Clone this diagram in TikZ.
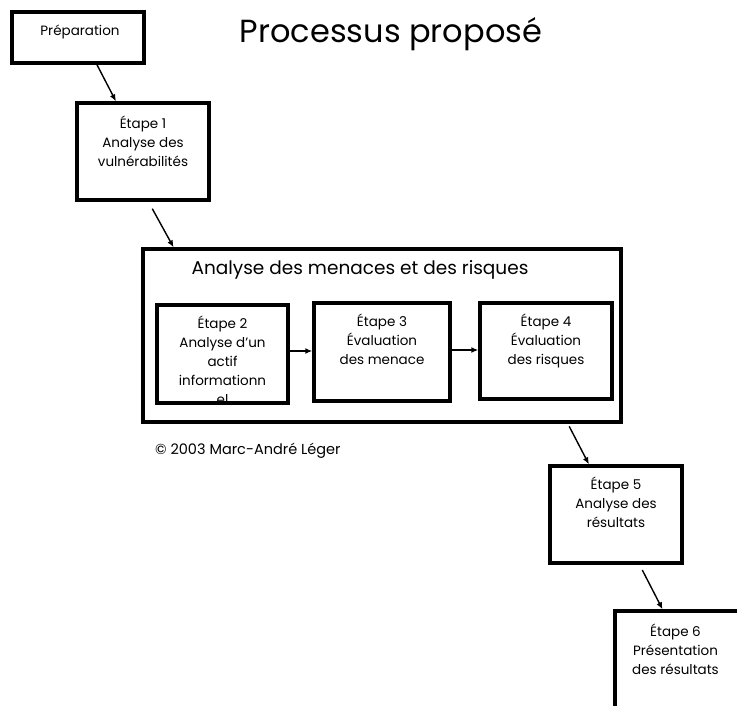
\documentclass[tikz,border=0pt]{standalone}
\usepackage{fontspec}
\setmainfont{Poppins}
\usetikzlibrary{calc,arrows.meta}
\begin{document}
\begin{tikzpicture}[x=1pt,y=-1pt,
  box/.style={draw, line width=3.4pt, inner sep=0pt, fill=none},
  lbl/.style={font=\fontsize{13.5}{19}\selectfont, align=center, inner sep=0pt, anchor=north},
  arr/.style={-{Latex[length=7pt,width=6pt]}, line width=1.4pt},
  ttl/.style={font=\fontsize{32}{34}\selectfont, inner sep=0pt, anchor=base},
  sub/.style={font=\fontsize{18.5}{20}\selectfont, inner sep=0pt}]
\useasboundingbox (0,0) rectangle (737,706);
\clip (0,0) rectangle (737,706);
\fill[white] (0,0) rectangle (737,706);

\node[ttl] (title) at (391,43) {Processus proposé};

% boxes
\node[box, minimum width=132pt, minimum height=51pt] (prep) at (78,37.5) {};
\node[box, minimum width=132pt, minimum height=97pt] (e1) at (143,151.5) {};
\node[box, minimum width=478pt, minimum height=173pt] (big) at (382,335.5) {};
\node[box, minimum width=131pt, minimum height=98pt] (e2) at (222.5,354) {};
\node[box, minimum width=136pt, minimum height=98pt] (e3) at (382,352) {};
\node[box, minimum width=132pt, minimum height=96pt] (e4) at (546,351) {};
\node[box, minimum width=132pt, minimum height=97pt] (e5) at (616,514.5) {};
\node[box, minimum width=131pt, minimum height=98pt] (e6) at (680.5,660) {};

% texts
\node[lbl, anchor=center] (tprep) at (80,32) {Préparation};
\node[lbl] (te1) at ($(e1.north)+(0,14)$) {Étape 1\\Analyse des\\vulnérabilités};
\node[sub] (tbig) at (360,270) {Analyse des menaces et des risques};
\begin{scope}
  \clip ($(e2.south west)+(1.7,-1.7)$) rectangle ($(e2.north east)+(-1.7,1.7)$);
  \node[lbl] (te2) at ($(e2.north)+(0,12)$) {Étape 2\\Analyse d'un\\actif\\informationn\\el};
\end{scope}
\node[lbl] (te3) at ($(e3.north)+(0,12)$) {Étape 3\\Évaluation\\des menace};
\node[lbl] (te4) at ($(e4.north)+(0,12)$) {Étape 4\\Évaluation\\des risques};
\node[lbl] (te5) at ($(e5.north)+(0,12)$) {Étape 5\\Analyse des\\résultats};
\node[lbl] (te6) at ($(e6.north)+(-5,14)$) {Étape 6\\Présentation\\des résultats};
\node[font=\fontsize{14.5}{16}\selectfont, anchor=west, inner sep=0pt] (copy) at (155,451) {© 2003 Marc-André Léger};

% connectors
\coordinate (a23) at ($(e2.east)+(0,-3)$);
\coordinate (a34) at ($(e3.east)+(0,-2)$);
\draw[arr] ($(prep.south west)!0.64!(prep.south east)$) -- ($(e1.north west)!0.30!(e1.north east)$);
\draw[arr, shorten <=8pt] ($(e1.south west)!0.54!(e1.south east)$) -- ($(big.north west)!0.067!(big.north east)$);
\draw[arr] (a23) -- (a23 -| e3.west);
\draw[arr] (a34) -- (a34 -| e4.west);
\draw[arr, shorten <=3pt] ($(big.south west)!0.886!(big.south east)$) -- ($(e5.north west)!0.30!(e5.north east)$);
\draw[arr, shorten <=6pt] ($(e5.south west)!0.674!(e5.south east)$) -- ($(e6.north west)!0.366!(e6.north east)$);
\end{tikzpicture}
\end{document}
